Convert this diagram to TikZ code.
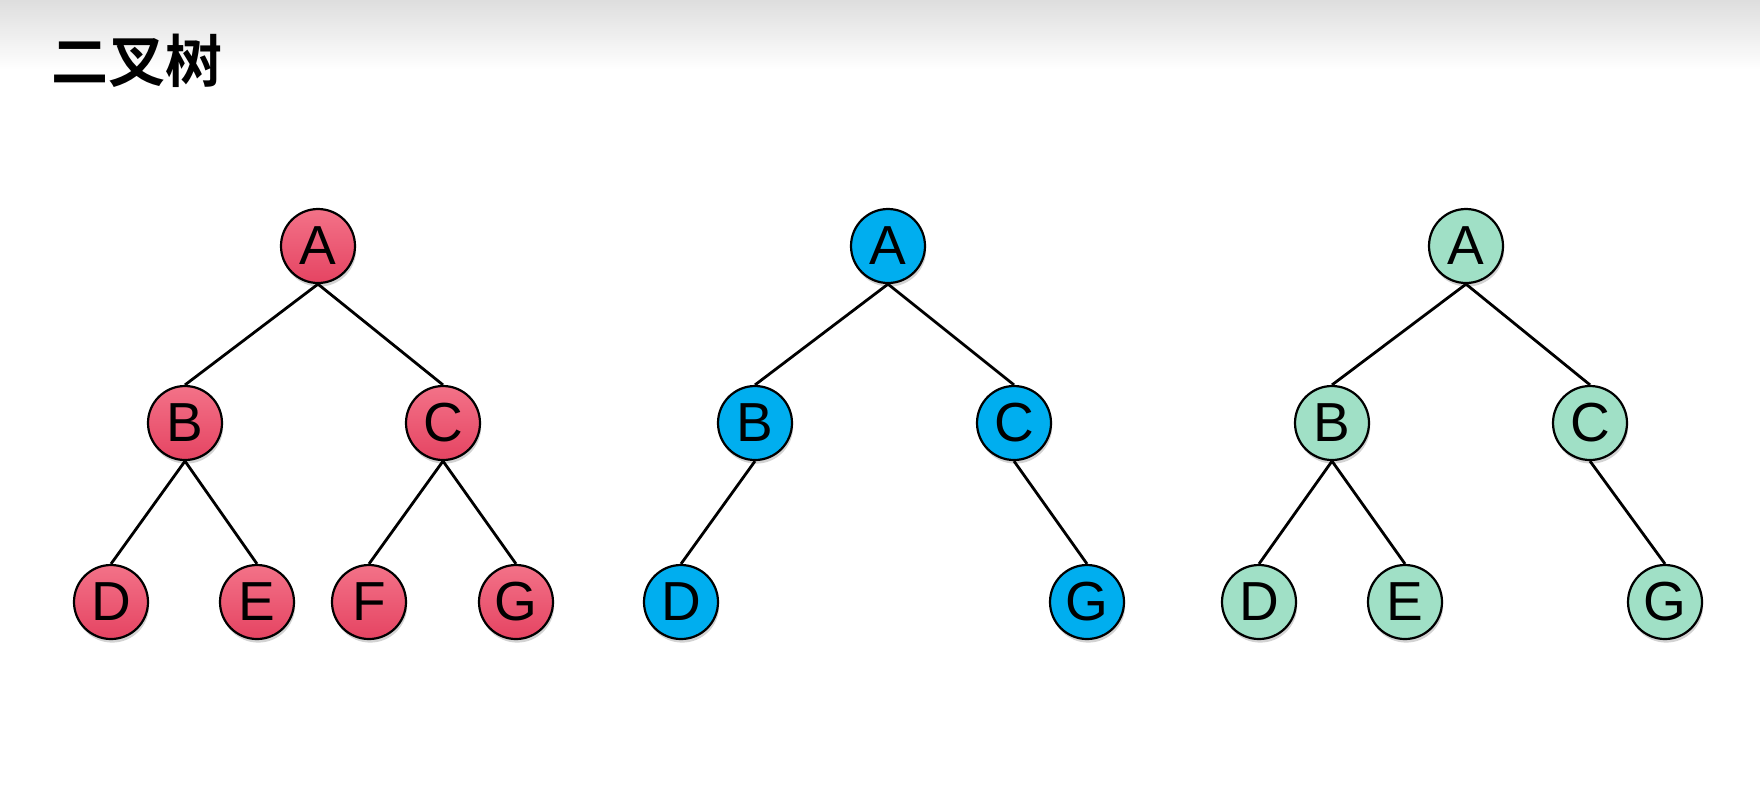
\documentclass[tikz,border=0pt]{standalone}
\usepackage{fontspec}
\setmainfont{Liberation Sans}
\newfontfamily\cjk{Noto Sans CJK SC}[BoldFont={Noto Sans CJK SC Bold}]
\usetikzlibrary{shadows}

\definecolor{redtop}{RGB}{243,114,136}
\definecolor{redbottom}{RGB}{229,68,98}
\definecolor{treeblue}{RGB}{0,174,239}
\definecolor{treegreen}{RGB}{160,224,198}

\tikzset{
    treenode/.style={draw, circle, line width=1.1pt, minimum size=37pt, inner sep=0pt,
        font=\fontsize{27.5}{27.5}\selectfont,
        drop shadow={opacity=0.35, shadow xshift=0.6pt, shadow yshift=-1.8pt}},
    branch/.style={line width=1.4pt}
}

\begin{document}
\begin{tikzpicture}[x=0.5pt, y=-0.5pt]
        \useasboundingbox (0,0) rectangle (1760,800);
        \shade[top color=black!13, bottom color=white] (0,0) rectangle (1760,70);

        \node[anchor=west, inner sep=0pt, font=\cjk\bfseries\fontsize{28.5}{28.5}\selectfont] (title) at (51,61) {二叉树};

        % red tree
        \begin{scope}
            \tikzset{every node/.style={treenode, top color=redtop, bottom color=redbottom}}
            \node (lA) at (318,246) {A};
            \node (lB) at (185,423) {B};
            \node (lC) at (443,423) {C};
            \node (lD) at (111,602) {D};
            \node (lE) at (257,602) {E};
            \node (lF) at (369,602) {F};
            \node (lG) at (516,602) {G};
        \end{scope}
        \draw[branch] (lA.south) -- (lB.north);
        \draw[branch] (lA.south) -- (lC.north);
        \draw[branch] (lB.south) -- (lD.north);
        \draw[branch] (lB.south) -- (lE.north);
        \draw[branch] (lC.south) -- (lF.north);
        \draw[branch] (lC.south) -- (lG.north);

        % blue tree
        \begin{scope}
            \tikzset{every node/.style={treenode, fill=treeblue}}
            \node (mA) at (888,246) {A};
            \node (mB) at (755,423) {B};
            \node (mC) at (1014,423) {C};
            \node (mD) at (681,602) {D};
            \node (mG) at (1087,602) {G};
        \end{scope}
        \draw[branch] (mA.south) -- (mB.north);
        \draw[branch] (mA.south) -- (mC.north);
        \draw[branch] (mB.south) -- (mD.north);
        \draw[branch] (mC.south) -- (mG.north);

        % green tree
        \begin{scope}
            \tikzset{every node/.style={treenode, fill=treegreen}}
            \node (rA) at (1466,246) {A};
            \node (rB) at (1332,423) {B};
            \node (rC) at (1590,423) {C};
            \node (rD) at (1259,602) {D};
            \node (rE) at (1405,602) {E};
            \node (rG) at (1665,602) {G};
        \end{scope}
        \draw[branch] (rA.south) -- (rB.north);
        \draw[branch] (rA.south) -- (rC.north);
        \draw[branch] (rB.south) -- (rD.north);
        \draw[branch] (rB.south) -- (rE.north);
        \draw[branch] (rC.south) -- (rG.north);
\end{tikzpicture}
\end{document}
